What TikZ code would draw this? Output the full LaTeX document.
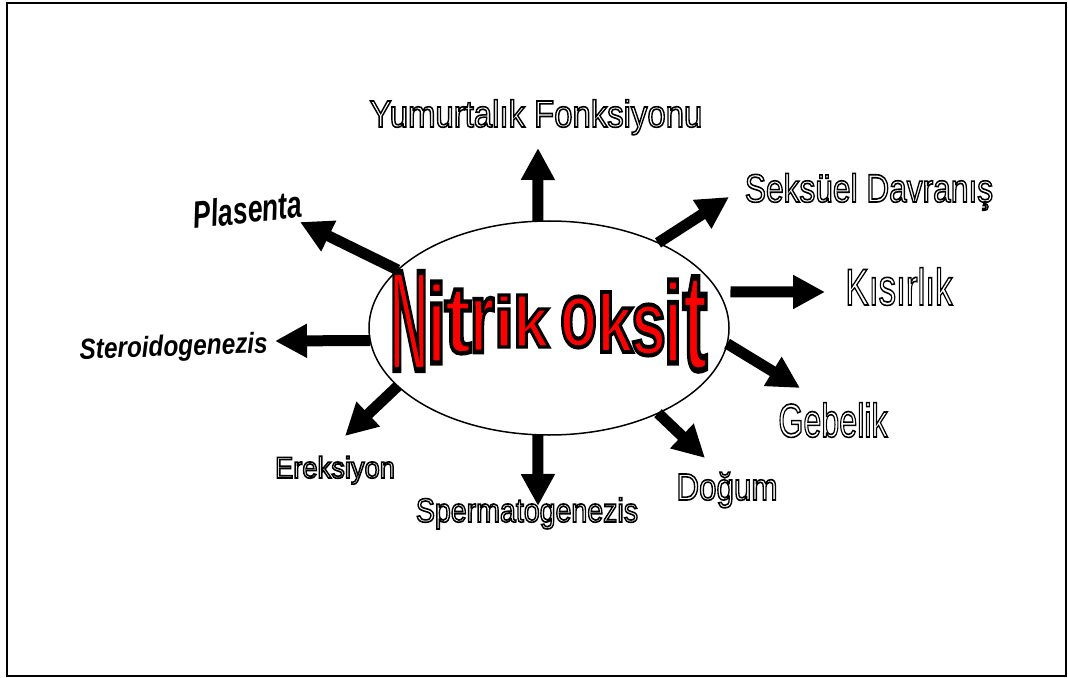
\documentclass[tikz,border=0pt]{standalone}
\usepackage{fontspec}
\setmainfont{Liberation Sans}
\usepackage{graphicx}
\usepackage{tikz}
\usetikzlibrary{shapes.geometric}
\usetikzlibrary{arrows.meta}
\tikzstyle{frame}=[line width=1pt]
\tikzstyle{no}=[ellipse, draw, line width=0.75pt, minimum width=180pt, minimum height=107pt, inner sep=0pt, outer sep=0pt]
\tikzstyle{letter}=[inner sep=0pt, text=red, font=\fontsize{20}{20}\selectfont\bfseries]
\tikzstyle{lab}=[anchor=base, inner sep=0pt]
\tikzstyle{arr}=[line width=5.5pt, -{Triangle[length=16pt, width=16pt]}]
\newcommand{\hollow}[2]{\scalebox{#1}[1]{\special{pdf:literal direct 1 Tr 0.8 w}#2\special{pdf:literal direct 0 Tr}}}
\newcommand{\redout}[1]{\special{pdf:literal direct 2 Tr 0.9 w 0 0 0 RG}#1\special{pdf:literal direct 0 Tr}}

\begin{document}
\begin{tikzpicture}[x=0.5pt, y=-0.5pt]
	\useasboundingbox (0,0) rectangle (1068,678);
	\draw[frame] (7,3) rectangle (1066,676);
	\node[no] (nitrik) at (549,328) {};
	% Nitrik oksit, letter by letter
	\foreach \l/\xa/\xb/\ya/\yb [count=\n] in {N/392/426/272/370, i/428/445/282/363, t/446/470/290/353, r/471/493/298/352, i/495/513/295/347, k/515/547/295/347, o/562/595/297/347, k/599/631/292/352, s/633/664/305/355, i/665/681/280/363, t/684/706/278/370} {
		\pgfmathsetmacro\lw{(\xb-\xa)*0.56}
		\pgfmathsetmacro\lh{(\yb-\ya)*0.5}
		\node[letter] (nl\n) at ({(\xa+\xb)/2}, {(\ya+\yb)/2}) {\resizebox{\lw pt}{\lh pt}{\redout{\l}}};
	}
	\node[lab, font=\fontsize{18.9}{20}\selectfont] (yumurtalik) at (536,127) {\hollow{0.87}{Yumurtalık Fonksiyonu}};
	\node[lab, font=\fontsize{19.8}{20}\selectfont] (seksuel) at (869,202) {\hollow{0.8}{Seksüel Davranış}};
	\node[lab, font=\fontsize{25.8}{26}\selectfont] (kisirlik) at (899,305) {\hollow{0.68}{Kısırlık}};
	\node[lab, font=\fontsize{23.7}{24}\selectfont] (gebelik) at (833,437) {\hollow{0.68}{Gebelik}};
	\node[lab, font=\fontsize{18.9}{20}\selectfont] (dogum) at (727,500) {\hollow{0.83}{Doğum}};
	\node[lab, font=\fontsize{16.8}{18}\selectfont] (sperm) at (527,522) {\hollow{0.85}{Spermatogenezis}};
	\node[lab, font=\fontsize{15}{16}\selectfont] (ereksiyon) at (335,478) {\hollow{0.91}{Ereksiyon}};
	\node[lab, rotate=2, font=\fontsize{14.5}{16}\selectfont\bfseries\itshape] (steroid) at (174,356) {\scalebox{0.84}[1]{Steroidogenezis}};
	\node[lab, rotate=6, font=\fontsize{19}{20}\selectfont\bfseries\itshape] (plasenta) at (249,223) {\scalebox{0.7}[1]{Plasenta}};
	% arrow tips
	\coordinate (tYum) at (538,148);
	\coordinate (tSeks) at (729,197);
	\coordinate (tKis) at (825,292);
	\coordinate (tGeb) at (800,388);
	\coordinate (tDog) at (705,458);
	\coordinate (tSperm) at (538,506);
	\coordinate (tErek) at (345,436);
	\coordinate (tSter) at (275,341);
	\coordinate (tPlas) at (300,222);
	\draw[arr] (nitrik.96) -- (tYum);
	\draw[arr] (nitrik.38) -- (tSeks);
	\draw[arr, shorten <=6pt] (nitrik.12) -- (tKis);
	\draw[arr] (nitrik.-5) -- (tGeb);
	\draw[arr] (nitrik.-38) -- (tDog);
	\draw[arr] (nitrik.264) -- (tSperm);
	\draw[arr] (nitrik.201) -- (tErek);
	\draw[arr] (nitrik.184) -- (tSter);
	\draw[arr] (nitrik.159) -- (tPlas);
\end{tikzpicture}
\end{document}
